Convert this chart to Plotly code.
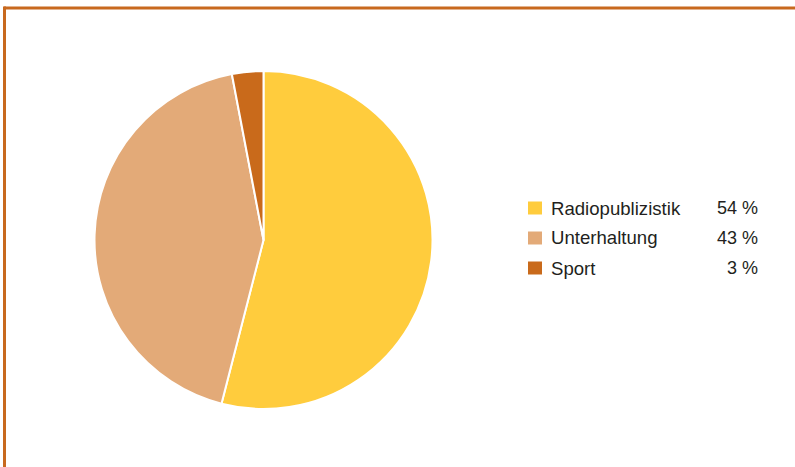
import plotly.graph_objects as go

labels = ["Radiopublizistik", "Unterhaltung", "Sport"]
values = [54, 43, 3]
pct_labels = ["54 %", "43 %", "3 %"]
colors = ["#FFCC3D", "#E3AA78", "#C96A1B"]

W, H = 795, 467
cx, cy, r = 263.5, 240, 169

fig = go.Figure(go.Pie(
    labels=labels, values=values, sort=False, direction="clockwise", rotation=0,
    marker=dict(colors=colors, line=dict(color="white", width=2)),
    textinfo="none", showlegend=False,
    domain=dict(x=[(cx - r) / W, (cx + r) / W], y=[(H - cy - r) / H, (H - cy + r) / H]),
))

shapes = [
    dict(type="line", xref="paper", yref="paper", x0=4 / W, x1=1, y0=1 - 8 / H, y1=1 - 8 / H,
         line=dict(color="#C8691E", width=3)),
    dict(type="line", xref="paper", yref="paper", x0=4.5 / W, x1=4.5 / W, y0=0, y1=1 - 6.5 / H,
         line=dict(color="#C8691E", width=3)),
]
annotations = []
row0, gap = 208, 30
for i, (lab, pct, col) in enumerate(zip(labels, pct_labels, colors)):
    yc = row0 + i * gap
    shapes.append(dict(type="rect", xref="paper", yref="paper", x0=528 / W, x1=542 / W,
                       y0=1 - (yc + 6.5) / H, y1=1 - (yc - 6.5) / H,
                       fillcolor=col, line=dict(width=0)))
    annotations.append(dict(xref="paper", yref="paper", x=549 / W, y=1 - yc / H, text=lab,
                            showarrow=False, xanchor="left", yanchor="middle",
                            font=dict(size=18.6, color="#231F20")))
    annotations.append(dict(xref="paper", yref="paper", x=760 / W, y=1 - yc / H, text=pct,
                            showarrow=False, xanchor="right", yanchor="middle",
                            font=dict(size=18, color="#231F20")))

fig.update_layout(
    width=W, height=H, margin=dict(l=0, r=0, t=0, b=0),
    paper_bgcolor="white", plot_bgcolor="white",
    font=dict(family="Liberation Sans, Arial, sans-serif"),
    shapes=shapes, annotations=annotations,
)
fig.write_html("out.html")
